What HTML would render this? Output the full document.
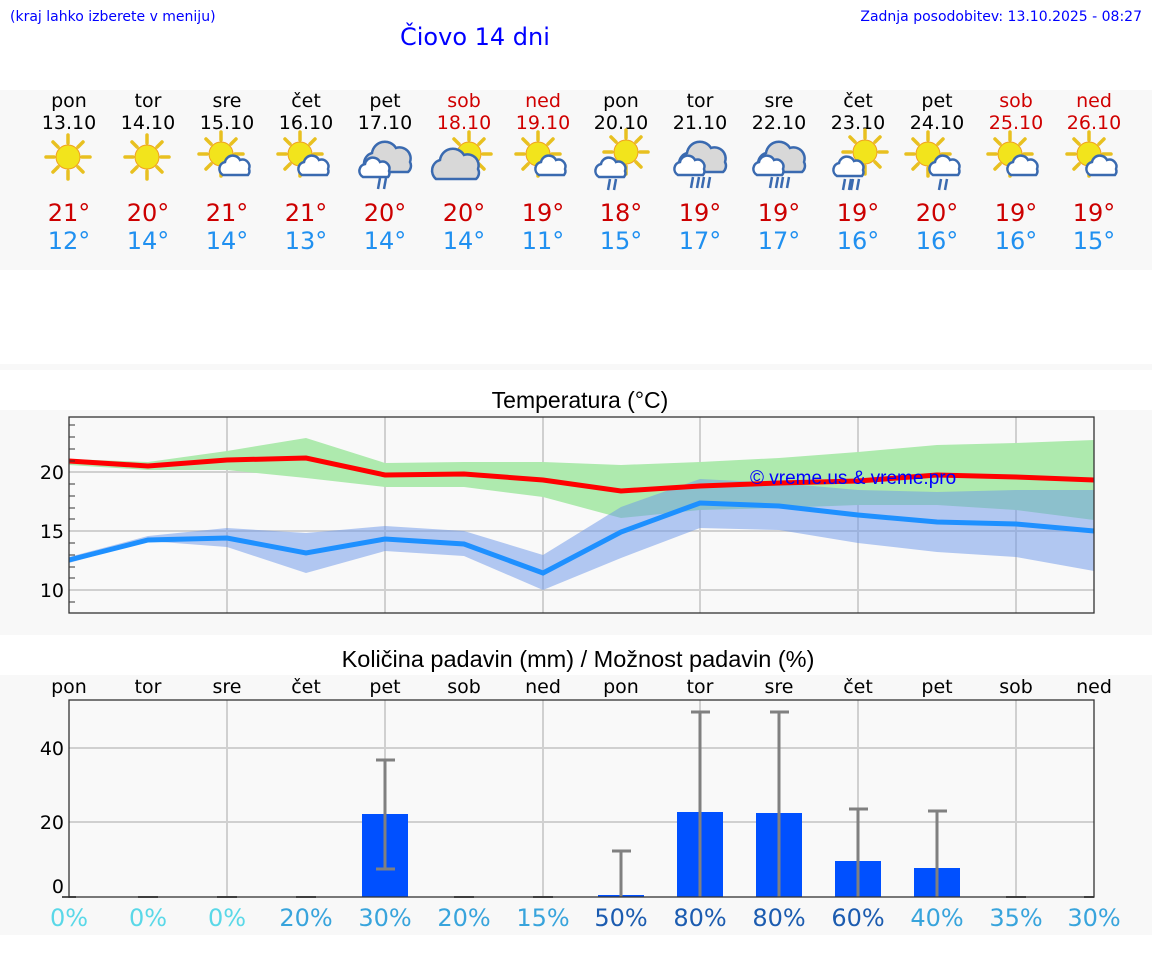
<!DOCTYPE html>
<html><head><meta charset="utf-8"><style>
body{margin:0;background:#fff;width:1152px;height:975px;overflow:hidden;font-family:"DejaVu Sans","Liberation Sans",sans-serif}
svg{position:absolute;left:0;top:0}
</style></head><body>
<svg width="1152" height="975" viewBox="0 0 1152 975" font-family="DejaVu Sans, Liberation Sans, sans-serif">
<defs>
<g id="sun"><g stroke="#e8c020" stroke-width="3.5" stroke-linecap="round">
<line x1="0" y1="-22" x2="0" y2="-14"/><line x1="0" y1="22" x2="0" y2="14"/><line x1="-22" y1="0" x2="-14" y2="0"/><line x1="22" y1="0" x2="14" y2="0"/>
<line x1="-15" y1="-15" x2="-10" y2="-10"/><line x1="15" y1="15" x2="10" y2="10"/><line x1="-15" y1="15" x2="-10" y2="10"/><line x1="15" y1="-15" x2="10" y2="-10"/></g>
<circle r="12" fill="#f2e41c" stroke="#f0a020" stroke-width="1"/></g>
<g id="cl"><path d="M-14,9 a7,7 0 0,1 2,-13 a8,8 0 0,1 15,-2 a7,7 0 0,1 9,9 a6,6 0 0,1 -1,6 z" fill="#fff" stroke="#3a6ab0" stroke-width="2.5"/></g>
<g id="bc"><path d="M-22,12 a11,11 0 0,1 4,-19 a13,13 0 0,1 24,-5 a11,11 0 0,1 14,14 a8,8 0 0,1 -2,10 z" fill="#d8d8d8" stroke="#3a6ab0" stroke-width="2.5"/></g>
<g id="rain" stroke="#3a6ab0" stroke-width="2.5"><line x1="-3" y1="0" x2="-5" y2="11"/><line x1="3" y1="0" x2="1" y2="11"/></g>
</defs>
<text x="10" y="21" font-size="14" fill="#0000ff">(kraj lahko izberete v meniju)</text>
<text x="400" y="45" font-size="24" fill="#0000ff">Čiovo 14 dni</text>
<text x="1142" y="21" font-size="14" fill="#0000ff" text-anchor="end">Zadnja posodobitev: 13.10.2025 - 08:27</text>
<rect x="0" y="90" width="1152" height="180" fill="#f8f8f8"/>
<rect x="0" y="364" width="1152" height="6" fill="#f8f8f8"/>
<rect x="0" y="410" width="1152" height="225" fill="#f8f8f8"/>
<rect x="0" y="675" width="1152" height="260" fill="#f8f8f8"/>
<g font-size="19" text-anchor="middle">
<g fill="#000"><text x="69" y="107">pon</text><text x="148" y="107">tor</text><text x="227" y="107">sre</text><text x="306" y="107">čet</text><text x="385" y="107">pet</text><text x="621" y="107">pon</text><text x="700" y="107">tor</text><text x="779" y="107">sre</text><text x="858" y="107">čet</text><text x="937" y="107">pet</text>
<text x="69" y="129">13.10</text><text x="148" y="129">14.10</text><text x="227" y="129">15.10</text><text x="306" y="129">16.10</text><text x="385" y="129">17.10</text><text x="621" y="129">20.10</text><text x="700" y="129">21.10</text><text x="779" y="129">22.10</text><text x="858" y="129">23.10</text><text x="937" y="129">24.10</text></g>
<g fill="#d00000"><text x="464" y="107">sob</text><text x="543" y="107">ned</text><text x="1016" y="107">sob</text><text x="1094" y="107">ned</text>
<text x="464" y="129">18.10</text><text x="543" y="129">19.10</text><text x="1016" y="129">25.10</text><text x="1094" y="129">26.10</text></g>
</g>
<use href="#sun" x="68" y="157"/><use href="#sun" x="147" y="157"/>
<use href="#sun" x="221" y="154"/><use href="#cl" x="237" y="166"/>
<use href="#sun" x="300" y="154"/><use href="#cl" x="316" y="166"/>
<use href="#bc" x="390" y="160"/><use href="#cl" x="377" y="168"/><use href="#rain" x="383" y="178"/>
<use href="#sun" x="469" y="154"/><use href="#bc" x="458" y="167"/>
<use href="#sun" x="538" y="154"/><use href="#cl" x="553" y="166"/>
<use href="#sun" x="626" y="152"/><use href="#cl" x="613" y="168"/><use href="#rain" x="613" y="179"/>
<use href="#bc" x="705" y="160"/><use href="#cl" x="692" y="166"/><use href="#rain" x="696" y="177"/><use href="#rain" x="707" y="177"/>
<use href="#bc" x="784" y="160"/><use href="#cl" x="771" y="166"/><use href="#rain" x="775" y="177"/><use href="#rain" x="786" y="177"/>
<use href="#sun" x="865" y="152"/><use href="#cl" x="851" y="167"/><use href="#rain" x="848" y="179"/><use href="#rain" x="856" y="179"/>
<use href="#sun" x="928" y="154"/><use href="#cl" x="947" y="166"/><use href="#rain" x="944" y="179"/>
<use href="#sun" x="1010" y="154"/><use href="#cl" x="1025" y="166"/>
<use href="#sun" x="1089" y="154"/><use href="#cl" x="1104" y="166"/>
<g font-size="24" text-anchor="middle">
<g fill="#cc0000"><text x="69" y="221">21°</text><text x="148" y="221">20°</text><text x="227" y="221">21°</text><text x="306" y="221">21°</text><text x="385" y="221">20°</text><text x="464" y="221">20°</text><text x="543" y="221">19°</text><text x="621" y="221">18°</text><text x="700" y="221">19°</text><text x="779" y="221">19°</text><text x="858" y="221">19°</text><text x="937" y="221">20°</text><text x="1016" y="221">19°</text><text x="1094" y="221">19°</text></g>
<g fill="#2090f0"><text x="69" y="249">12°</text><text x="148" y="249">14°</text><text x="227" y="249">14°</text><text x="306" y="249">13°</text><text x="385" y="249">14°</text><text x="464" y="249">14°</text><text x="543" y="249">11°</text><text x="621" y="249">15°</text><text x="700" y="249">17°</text><text x="779" y="249">17°</text><text x="858" y="249">16°</text><text x="937" y="249">16°</text><text x="1016" y="249">16°</text><text x="1094" y="249">15°</text></g>
</g>
<!-- Temperature chart -->
<text x="580" y="408" font-size="23" text-anchor="middle" font-family="Liberation Sans, sans-serif">Temperatura (°C)</text>
<rect x="69" y="417" width="1025" height="196" fill="#f9f9f9"/>
<g stroke="#d0d0d0" stroke-width="2"><line x1="69" y1="472" x2="1094" y2="472"/><line x1="69" y1="531" x2="1094" y2="531"/><line x1="69" y1="590" x2="1094" y2="590"/>
<line x1="227" y1="417" x2="227" y2="613"/><line x1="385" y1="417" x2="385" y2="613"/><line x1="543" y1="417" x2="543" y2="613"/><line x1="700" y1="417" x2="700" y2="613"/><line x1="858" y1="417" x2="858" y2="613"/><line x1="1016" y1="417" x2="1016" y2="613"/></g>
<polygon fill="#aeeaae" points="69,459 148,462 227,451 306,438 385,463 464,462 543,462 621,465 700,462 779,458 858,452 937,445 1016,443 1094,440 1094,520 1016,510 937,505 858,505 779,508 700,510 621,518 543,497 464,487 385,487 306,478 227,470 148,470 69,465"/>
<polygon fill="#6a95ea" fill-opacity="0.5" points="69,557 148,536 227,528 306,533 385,526 464,531 543,555 621,507 700,479 779,483 858,490 937,492 1016,490 1094,490 1094,571 1016,557 937,552 858,543 779,530 700,528 621,558 543,590 464,556 385,551 306,573 227,547 148,541 69,563"/>
<polyline fill="none" stroke="#ff0000" stroke-width="5" points="69,461 148,466 227,460 306,458 385,475 464,474 543,480 621,491 700,486 779,483 858,481 937,475 1016,477 1094,480"/>
<polyline fill="none" stroke="#1e90ff" stroke-width="5" points="69,560 148,540 227,538 306,553 385,539 464,544 543,573 621,532 700,503 779,506 858,515 937,522 1016,524 1094,531"/>
<text x="750" y="484" font-size="19" fill="#0000ff" font-family="Liberation Sans, sans-serif">© vreme.us &amp; vreme.pro</text>
<rect x="69" y="417" width="1025" height="196" fill="none" stroke="#333" stroke-width="1.3"/>
<g stroke="#333" stroke-width="1"><line x1="69" y1="425" x2="75" y2="425"/><line x1="69" y1="437" x2="75" y2="437"/><line x1="69" y1="449" x2="75" y2="449"/><line x1="69" y1="461" x2="75" y2="461"/><line x1="69" y1="484" x2="75" y2="484"/><line x1="69" y1="496" x2="75" y2="496"/><line x1="69" y1="508" x2="75" y2="508"/><line x1="69" y1="519" x2="75" y2="519"/><line x1="69" y1="543" x2="75" y2="543"/><line x1="69" y1="555" x2="75" y2="555"/><line x1="69" y1="567" x2="75" y2="567"/><line x1="69" y1="578" x2="75" y2="578"/><line x1="69" y1="602" x2="75" y2="602"/></g>
<g font-size="19" text-anchor="end"><text x="64" y="479">20</text><text x="64" y="538">15</text><text x="64" y="597">10</text></g>
<!-- Precip chart -->
<text x="578" y="667" font-size="23.5" text-anchor="middle" font-family="Liberation Sans, sans-serif">Količina padavin (mm) / Možnost padavin (%)</text>
<g font-size="19" text-anchor="middle"><text x="69" y="693">pon</text><text x="148" y="693">tor</text><text x="227" y="693">sre</text><text x="306" y="693">čet</text><text x="385" y="693">pet</text><text x="464" y="693">sob</text><text x="543" y="693">ned</text><text x="621" y="693">pon</text><text x="700" y="693">tor</text><text x="779" y="693">sre</text><text x="858" y="693">čet</text><text x="937" y="693">pet</text><text x="1016" y="693">sob</text><text x="1094" y="693">ned</text></g>
<rect x="69" y="700" width="1025" height="197" fill="#f9f9f9"/>
<g stroke="#d0d0d0" stroke-width="2"><line x1="69" y1="748" x2="1094" y2="748"/><line x1="69" y1="822" x2="1094" y2="822"/>
<line x1="227" y1="700" x2="227" y2="897"/><line x1="385" y1="700" x2="385" y2="897"/><line x1="543" y1="700" x2="543" y2="897"/><line x1="700" y1="700" x2="700" y2="897"/><line x1="858" y1="700" x2="858" y2="897"/><line x1="1016" y1="700" x2="1016" y2="897"/></g>
<g fill="#0050ff"><rect x="362" y="814" width="46" height="83"/><rect x="598" y="895" width="46" height="2"/><rect x="677" y="812" width="46" height="85"/><rect x="756" y="813" width="46" height="84"/><rect x="835" y="861" width="46" height="36"/><rect x="914" y="868" width="46" height="29"/></g>
<g stroke="#808080" stroke-width="3">
<line x1="385" y1="760" x2="385" y2="869"/><line x1="376" y1="760" x2="395" y2="760"/><line x1="376" y1="869" x2="395" y2="869"/>
<line x1="621" y1="851" x2="621" y2="897"/><line x1="612" y1="851" x2="631" y2="851"/>
<line x1="700" y1="712" x2="700" y2="897"/><line x1="691" y1="712" x2="710" y2="712"/>
<line x1="779" y1="712" x2="779" y2="897"/><line x1="770" y1="712" x2="789" y2="712"/>
<line x1="858" y1="809" x2="858" y2="897"/><line x1="849" y1="809" x2="868" y2="809"/>
<line x1="937" y1="811" x2="937" y2="897"/><line x1="928" y1="811" x2="947" y2="811"/>
<g stroke="#555" stroke-width="2"><line x1="62" y1="897" x2="76" y2="897"/><line x1="138" y1="897" x2="158" y2="897"/><line x1="217" y1="897" x2="237" y2="897"/><line x1="296" y1="897" x2="316" y2="897"/><line x1="454" y1="897" x2="474" y2="897"/><line x1="533" y1="897" x2="553" y2="897"/><line x1="1006" y1="897" x2="1026" y2="897"/><line x1="1084" y1="897" x2="1094" y2="897"/></g>
</g>
<rect x="69" y="700" width="1025" height="197" fill="none" stroke="#333" stroke-width="1.3"/>
<g font-size="19" text-anchor="end"><text x="64" y="755">40</text><text x="64" y="829">20</text><text x="64" y="893">0</text></g>
<g font-size="24" text-anchor="middle">
<g fill="#5ad8e8"><text x="69" y="926">0%</text><text x="148" y="926">0%</text><text x="227" y="926">0%</text></g>
<g fill="#38a4dc"><text x="306" y="926">20%</text><text x="385" y="926">30%</text><text x="464" y="926">20%</text><text x="543" y="926">15%</text><text x="937" y="926">40%</text><text x="1016" y="926">35%</text><text x="1094" y="926">30%</text></g>
<g fill="#1c5cb0"><text x="621" y="926">50%</text><text x="700" y="926">80%</text><text x="779" y="926">80%</text><text x="858" y="926">60%</text></g>
</g>
</svg>
</body></html>
